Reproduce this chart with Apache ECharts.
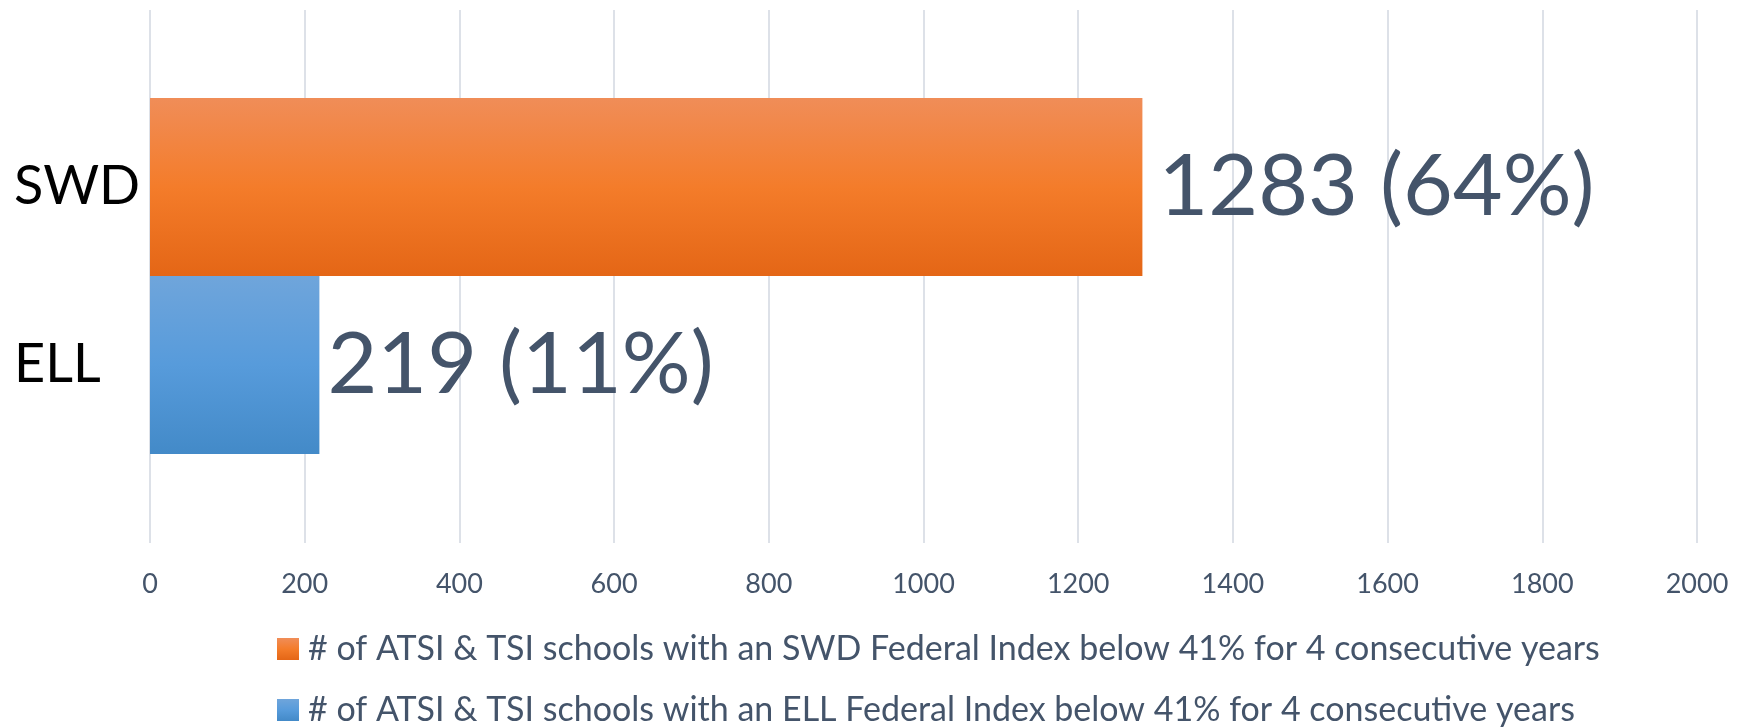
<!DOCTYPE html>
<html>
<head>
<meta charset="utf-8">
<script src="https://cdn.jsdelivr.net/npm/echarts@6/dist/echarts.min.js"></script>
<style>html,body{margin:0;padding:0;background:#fff;}#c{width:1743px;height:727px;}</style>
</head>
<body>
<div id="c"></div>
<script>
const categories = ['ELL', 'SWD'];
const seriesNames = [
  '# of ATSI & TSI schools with an SWD Federal Index below 41% for 4 consecutive years',
  '# of ATSI & TSI schools with an ELL Federal Index below 41% for 4 consecutive years'
];
const swdValues = [null, 1283];
const ellValues = [219, null];
const swdPct = [null, '64%'];
const ellPct = ['11%', null];
const xTicks = [0, 200, 400, 600, 800, 1000, 1200, 1400, 1600, 1800, 2000];

const FONT = 'Lato';
const TXT = '#44546A';
const grad = (a, b, c) => new echarts.graphic.LinearGradient(0, 0, 0, 1, [
  {offset: 0, color: a}, {offset: 0.5, color: b}, {offset: 1, color: c}
]);
const legendBase = (name, top) => ({
  orient: 'vertical', left: 277, top: top, itemWidth: 22, itemHeight: 22,
  icon: 'rect', itemStyle: {borderWidth: 0}, padding: 0,
  textStyle: {color: TXT, fontSize: 34, fontFamily: FONT, padding: [0, 0, 0, 4]},
  data: [name]
});
const chart = echarts.init(document.getElementById('c'));
chart.setOption({
  animation: false,
  textStyle: {fontFamily: FONT},
  grid: [
    {left: 150, right: 46, top: 10, height: 533},
    {left: 150, right: 46, top: 98, height: 356}
  ],
  xAxis: [
    {gridIndex: 0, type: 'value', min: xTicks[0], max: xTicks[xTicks.length - 1], interval: 200,
     axisLine: {show: false}, axisTick: {show: false},
     splitLine: {show: true, lineStyle: {color: '#DDE1E8', width: 2}},
     axisLabel: {color: TXT, fontSize: 27, fontFamily: FONT, margin: 28, formatter: v => String(v)}},
    {gridIndex: 1, type: 'value', min: xTicks[0], max: xTicks[xTicks.length - 1], show: false}
  ],
  yAxis: [
    {gridIndex: 0, type: 'category', data: [''], show: false},
    {gridIndex: 1, type: 'category', data: categories,
     axisLine: {show: false}, axisTick: {show: false}, splitLine: {show: false},
     axisLabel: {color: '#000', fontSize: 54, fontFamily: FONT, align: 'left', margin: 136}}
  ],
  legend: [legendBase(seriesNames[0], 632), legendBase(seriesNames[1], 693)],
  series: [
    {name: seriesNames[0], type: 'bar', xAxisIndex: 1, yAxisIndex: 1, stack: 's',
     barCategoryGap: '0%', data: swdValues,
     itemStyle: {color: grad('#F08D58', '#F47C2A', '#E46616')},
     label: {show: true, position: 'right', distance: 16, color: TXT, fontSize: 86, fontFamily: FONT,
       formatter: p => p.value + ' (' + swdPct[p.dataIndex] + ')'}},
    {name: seriesNames[1], type: 'bar', xAxisIndex: 1, yAxisIndex: 1, stack: 's',
     barCategoryGap: '0%', data: ellValues,
     itemStyle: {color: grad('#6FA5DB', '#579BDB', '#438AC8')},
     label: {show: true, position: 'right', distance: 8, color: TXT, fontSize: 86, fontFamily: FONT,
       formatter: p => p.value + ' (' + ellPct[p.dataIndex] + ')'}}
  ]
});
</script>
</body>
</html>
